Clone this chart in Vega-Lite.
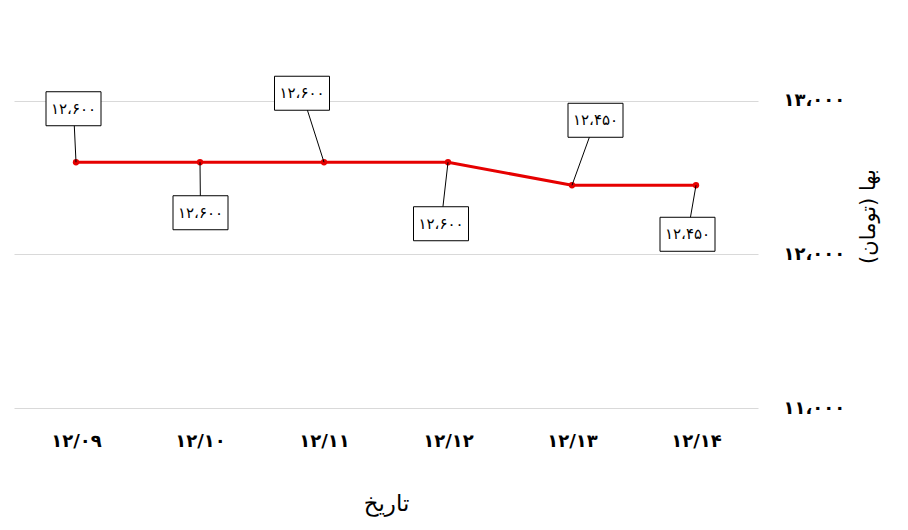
{
  "$schema": "https://vega.github.io/schema/vega-lite/v6.json",
  "width": 744,
  "height": 384,
  "autosize": "none",
  "padding": {"left": 14, "top": 24, "right": 150, "bottom": 122},
  "background": "white",
  "config": {
    "view": {"stroke": null},
    "font": "DejaVu Sans",
    "locale": {"number": {"decimal": "٫", "thousands": "،", "grouping": [3], "currency": ["", ""], "numerals": ["۰","۱","۲","۳","۴","۵","۶","۷","۸","۹"]}}
  },
  "data": {"values": [
    {"day": 9, "date": "۱۲/۰۹", "price": 12600},
    {"day": 10, "date": "۱۲/۱۰", "price": 12600},
    {"day": 11, "date": "۱۲/۱۱", "price": 12600},
    {"day": 12, "date": "۱۲/۱۲", "price": 12600},
    {"day": 13, "date": "۱۲/۱۳", "price": 12450},
    {"day": 14, "date": "۱۲/۱۴", "price": 12450}
  ]},
  "encoding": {
    "x": {
      "field": "date", "type": "ordinal", "sort": null,
      "scale": {"type": "point", "padding": 0.5},
      "title": "تاریخ",
      "axis": {"labelAngle": 0, "domain": false, "ticks": false, "grid": false, "labelPadding": 24, "labelFontSize": 18, "labelFontWeight": "bold", "labelColor": "black", "titleFontSize": 23, "titleFontWeight": "normal", "titleColor": "black", "titlePadding": 42}
    },
    "y": {
      "field": "price", "type": "quantitative",
      "scale": {"domain": [11000, 13500], "zero": false, "nice": false},
      "title": "بها (تومان)",
      "axis": {"orient": "right", "values": [11000, 12000, 13000], "labelExpr": "format(datum.value, ',')", "domain": false, "ticks": false, "labelPadding": 25, "labelFontSize": 18, "labelFontWeight": "bold", "labelColor": "black", "gridColor": "#d9d9d9", "gridWidth": 1, "titleAngle": 270, "titleFontSize": 21, "titleFontWeight": "normal", "titleColor": "black", "titlePadding": 34}
    }
  },
  "layer": [
    {"mark": {"type": "line", "color": "#e60000", "strokeWidth": 3}},
    {"mark": {"type": "point", "filled": true, "color": "#e60000", "size": 40, "opacity": 1}},
    {
      "mark": {"type": "rule", "color": "black", "strokeWidth": 1,
        "x2Offset": {"expr": "[-2.5,0.5,-22,-7,23.5,-8.5][datum.day-9]"},
        "y2Offset": {"expr": "[-53.5,50.5,-69,61.5,-65,49][datum.day-9]"}},
      "encoding": {"x2": {"field": "date"}, "y2": {"field": "price"}}
    },
    {
      "mark": {"type": "rect", "fill": "white", "stroke": "black", "strokeWidth": 1,
        "xOffset": {"expr": "[-2.5,0.5,-22,-7,23.5,-8.5][datum.day-9] - 27.5"},
        "x2Offset": {"expr": "[-2.5,0.5,-22,-7,23.5,-8.5][datum.day-9] + 27.5"},
        "yOffset": {"expr": "[-53.5,50.5,-69,61.5,-65,49][datum.day-9] - 17"},
        "y2Offset": {"expr": "[-53.5,50.5,-69,61.5,-65,49][datum.day-9] + 17"}},
      "encoding": {"x2": {"field": "date"}, "y2": {"field": "price"}}
    },
    {
      "mark": {"type": "text", "fontSize": 15, "color": "black", "align": "center", "baseline": "middle",
        "xOffset": {"expr": "[-2.5,0.5,-22,-7,23.5,-8.5][datum.day-9]"},
        "yOffset": {"expr": "[-53.5,50.5,-69,61.5,-65,49][datum.day-9]"}},
      "encoding": {"text": {"field": "price", "type": "quantitative", "format": ","}}
    }
  ]
}
